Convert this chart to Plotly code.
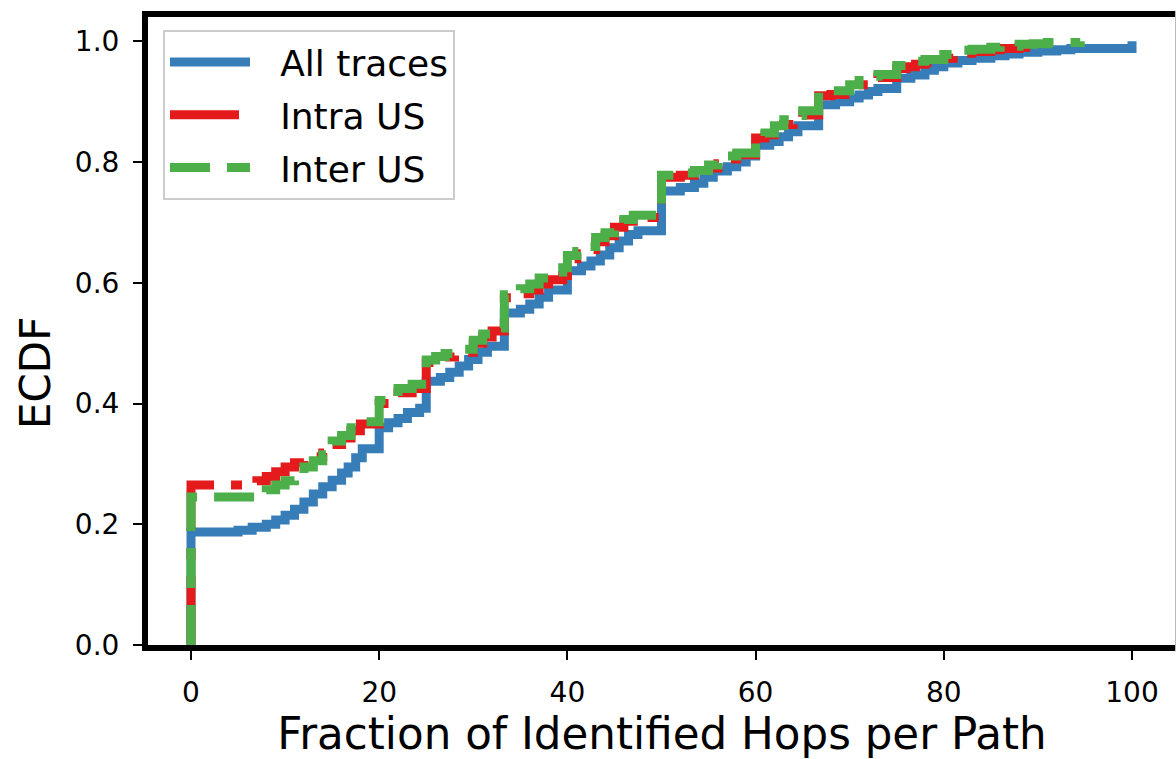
import plotly.graph_objects as go

# ---- data ----
all_x = [0, 0, 5, 6.5, 8, 9, 10, 11, 12, 13, 14, 15, 16, 16.7, 17.5, 18.2, 20, 21, 22, 23, 24.3,
         25, 26.5, 27.5, 28.5, 29.5, 30.5, 31.5, 33.3, 35, 36, 37, 38, 40, 41.5, 42.5, 43.5, 44.5,
         45.5, 46.5, 47.5, 50, 52, 53.5, 54.5, 55.5, 57, 58, 59, 60, 61.5, 62.5, 63.5, 64.5, 66.7,
         68.5, 70, 71, 72, 73, 75, 76.5, 78, 79, 80, 81.5, 83, 85, 86.5, 88, 90, 92, 93.5, 100]
all_y = [0, 0.187, 0.19, 0.195, 0.2, 0.207, 0.215, 0.225, 0.237, 0.25, 0.262, 0.273, 0.285, 0.295,
         0.31, 0.325, 0.36, 0.368, 0.375, 0.385, 0.392, 0.437, 0.443, 0.452, 0.462, 0.473, 0.485,
         0.495, 0.55, 0.556, 0.565, 0.576, 0.588, 0.62, 0.628, 0.636, 0.646, 0.658, 0.669, 0.68,
         0.686, 0.752, 0.758, 0.765, 0.775, 0.785, 0.792, 0.8, 0.81, 0.828, 0.834, 0.842, 0.85,
         0.86, 0.895, 0.9, 0.906, 0.911, 0.917, 0.922, 0.939, 0.944, 0.952, 0.958, 0.964, 0.968,
         0.972, 0.976, 0.979, 0.982, 0.984, 0.986, 0.988, 1.0]

intra_x = [0, 0, 7, 8, 9, 10, 11, 12, 13, 14, 15, 16, 17, 18, 20, 21, 22, 23.5, 25, 26, 27, 28, 29,
           30, 31, 32, 33.3, 35, 36, 37, 38, 39.5, 40, 41, 42, 43, 44, 45, 46, 47, 50, 52, 53.5, 55,
           56, 57, 58, 60, 61, 62, 63, 64, 65, 66.7, 68, 70, 71, 72, 73, 75, 76, 77, 78, 80, 81, 82,
           83, 85, 86, 88, 89.5, 90.5]
intra_y = [0, 0.265, 0.272, 0.279, 0.287, 0.295, 0.302, 0.308, 0.312, 0.318, 0.332, 0.343, 0.355,
           0.366, 0.4, 0.405, 0.418, 0.425, 0.468, 0.472, 0.477, 0.482, 0.485, 0.5, 0.51, 0.52,
           0.575, 0.582, 0.588, 0.598, 0.605, 0.612, 0.64, 0.648, 0.655, 0.668, 0.678, 0.692, 0.702,
           0.708, 0.775, 0.778, 0.785, 0.79, 0.797, 0.805, 0.812, 0.84, 0.845, 0.853, 0.862, 0.87,
           0.878, 0.91, 0.912, 0.92, 0.928, 0.935, 0.94, 0.955, 0.958, 0.962, 0.965, 0.972, 0.976,
           0.98, 0.983, 0.986, 0.988, 0.99, 0.992, 1.0]

inter_x = [0, 0, 7, 8, 9, 10, 11, 12, 13, 14, 15, 16, 17, 18, 20, 21, 22, 23.5, 25, 26, 27, 28, 29,
           30, 31, 32, 33.3, 35, 36, 37, 38, 39.5, 40, 41, 42, 43, 44, 45, 46, 47, 50, 52, 53.5, 55,
           56, 57, 58, 60, 61, 62, 63, 64, 65, 66.7, 68, 70, 71, 72, 73, 75, 76, 77, 78, 80, 81, 82,
           83, 85, 86, 88, 89.5, 91, 94.5]
inter_y = [0, 0.245, 0.25, 0.257, 0.265, 0.272, 0.282, 0.295, 0.305, 0.315, 0.338, 0.347, 0.36,
           0.37, 0.405, 0.41, 0.425, 0.432, 0.472, 0.478, 0.483, 0.487, 0.49, 0.505, 0.515, 0.525,
           0.58, 0.59, 0.598, 0.608, 0.618, 0.625, 0.645, 0.652, 0.66, 0.675, 0.683, 0.695, 0.705,
           0.712, 0.778, 0.782, 0.786, 0.795, 0.803, 0.81, 0.815, 0.843, 0.848, 0.86, 0.87, 0.877,
           0.885, 0.915, 0.918, 0.928, 0.935, 0.942, 0.945, 0.96, 0.963, 0.967, 0.97, 0.978, 0.982,
           0.985, 0.987, 0.99, 0.992, 0.995, 0.996, 0.998, 1.0]

series_names = ["All traces", "Intra US", "Inter US"]
x_ticks = [0, 20, 40, 60, 80, 100]
y_ticks = [0.0, 0.2, 0.4, 0.6, 0.8, 1.0]
y_tick_text = ["0.0", "0.2", "0.4", "0.6", "0.8", "1.0"]

FONT = "DejaVu Sans"
PAD = "\u2002\u2009"  # small gap between legend line sample and label

fig = go.Figure()
fig.add_trace(go.Scatter(x=all_x, y=all_y, mode="lines", name=PAD + series_names[0],
                         line=dict(color="#377eb8", width=9, shape="hv"),
                         legendgroup="a"))
fig.add_trace(go.Scatter(x=intra_x, y=intra_y, mode="lines", name=PAD + series_names[1],
                         line=dict(color="#e41a1c", width=9, shape="hv",
                                   dash="69px,17px,11px,17px"),
                         legendgroup="b"))
fig.add_trace(go.Scatter(x=inter_x, y=inter_y, mode="lines", name=PAD + series_names[2],
                         line=dict(color="#4daf4a", width=9, shape="hv", dash="40px,17px"),
                         legendgroup="c"))

L, R, T, B = 148, 1176, 17, 645
kx, x0 = 9.41, 191
ky = 603.7
xr = [(L - x0) / kx, (R - x0) / kx]
yr = [0, (B - T) / ky]

fig.update_layout(
    width=1176, height=759,
    margin=dict(l=L, r=1176 - R, t=T, b=759 - B, pad=0),
    paper_bgcolor="white", plot_bgcolor="white",
    font=dict(family=FONT, color="black"),
    showlegend=True,
    legend=dict(x=(163 - L) / (R - L), y=(B - 30) / (B - T), xanchor="left", yanchor="top",
                bgcolor="rgba(255,255,255,0.85)", bordercolor="#cccccc", borderwidth=2,
                font=dict(family=FONT, size=36, color="black"),
                traceorder="grouped", tracegroupgap=3, itemwidth=80),
    xaxis=dict(range=xr, tickvals=x_ticks, ticks="outside", ticklen=9, tickwidth=2,
               tickcolor="black", showline=True, linewidth=6, linecolor="black", mirror=True,
               showgrid=False, zeroline=False, tickfont=dict(family=FONT, size=28),
               ticklabelstandoff=8,
               title=dict(text="Fraction of Identified Hops per Path",
                          font=dict(family=FONT, size=43.6), standoff=14)),
    yaxis=dict(range=yr, tickvals=y_ticks, ticktext=y_tick_text, ticks="outside", ticklen=9,
               tickwidth=2, tickcolor="black", showline=True, linewidth=6, linecolor="black",
               mirror=False, showgrid=False, zeroline=False, tickfont=dict(family=FONT, size=28),
               ticklabelstandoff=8),
    annotations=[dict(text="ECDF", textangle=-90, xref="paper", yref="paper",
                      x=(35 - L) / (R - L), y=(B - 373) / (B - T), xanchor="center",
                      yanchor="middle", showarrow=False,
                      font=dict(family=FONT, size=42, color="black"))],
    shapes=[dict(type="line", xref="paper", yref="paper", x0=1, x1=1, y0=-0.01, y1=1.01,
                 line=dict(color="#bbbbbb", width=2))],
)

fig.write_html("out.html")
